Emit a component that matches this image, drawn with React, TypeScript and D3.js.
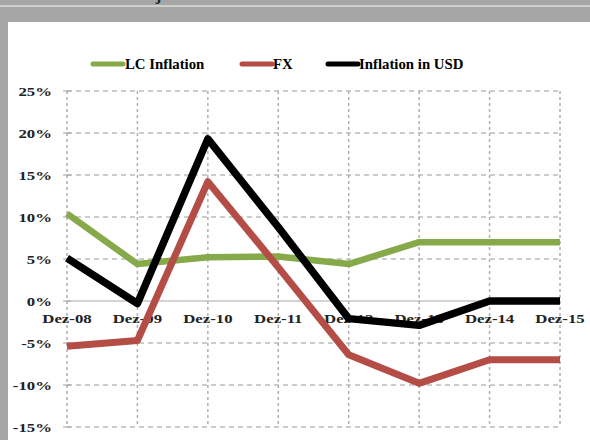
import React from "react";
import * as d3 from "d3";

const categories = ["Dez-08", "Dez-09", "Dez-10", "Dez-11", "Dez-12", "Dez-13", "Dez-14", "Dez-15"];
const lcInflation = [10.4, 4.4, 5.2, 5.3, 4.4, 7.0, 7.0, 7.0];
const fxChange = [-5.4, -4.7, 14.2, 4.0, -6.4, -9.8, -7.0, -7.0];
const usdInflation = [5.1, -0.3, 19.3, 8.8, -2.1, -2.9, 0.0, 0.0];
const yTicks = [25, 20, 15, 10, 5, 0, -5, -10, -15];

const series = [
  { name: "LC Inflation", values: lcInflation, color: "#86A94A", width: 6.5 },
  { name: "FX", values: fxChange, color: "#B34D46", width: 7 },
  { name: "Inflation in USD", values: usdInflation, color: "#000000", width: 7.5 },
];

const W = 590;
const H = 440;
const FONT = "'Liberation Serif', 'Times New Roman', serif";
const STRETCH = 1.4;

export default function App() {
  const x = d3.scalePoint<string>().domain(categories).range([67, 560]);
  const y = d3.scaleLinear().domain([-15, 25]).range([427, 91]);
  const [x0, x1] = x.range();

  const line = d3
    .line<number>()
    .x((_, i) => x(categories[i]) as number)
    .y((v) => y(v));

  const legendItems = [
    { lx: 93, tx: 125 },
    { lx: 242, tx: 273 },
    { lx: 328, tx: 359 },
  ];

  return (
    <svg
      width={W}
      height={H}
      style={{ position: "absolute", left: 0, top: 0, display: "block" }}
    >
      {/* frame */}
      <rect x={0} y={0} width={W} height={H} fill="#a6a6a6" />
      <text
        x={22}
        y={-0.5}
        fontFamily={FONT}
        fontWeight="bold"
        fontSize={17}
        fill="#222"
      >
        Historical and Projected Inflation in USD
      </text>
      <rect x={0} y={5} width={W} height={2} fill="#cfcfcf" />
      <rect x={8} y={22} width={W - 8} height={H - 22} fill="#ffffff" />

      {/* legend */}
      {series.map((s, i) => (
        <g key={s.name}>
          <line
            x1={legendItems[i].lx}
            x2={legendItems[i].lx + 30}
            y1={64}
            y2={64}
            stroke={s.color}
            strokeWidth={5}
            strokeLinecap="round"
          />
          <text
            x={legendItems[i].tx}
            y={69}
            fontFamily={FONT}
            fontWeight="bold"
            fontSize={14.8}
            fill="#000"
          >
            {s.name}
          </text>
        </g>
      ))}

      {/* horizontal gridlines */}
      {yTicks.map((t) =>
        t === 0 ? null : (
          <line
            key={"h" + t}
            x1={x0}
            x2={x1}
            y1={y(t)}
            y2={y(t)}
            stroke="#9a9a9a"
            strokeWidth={1}
            strokeDasharray="5,4"
          />
        )
      )}

      {/* vertical gridlines */}
      {categories.map((c) => (
        <line
          key={"v" + c}
          x1={x(c)}
          x2={x(c)}
          y1={y(25)}
          y2={y(-15)}
          stroke="#b0b0b0"
          strokeWidth={1.5}
          strokeDasharray="3,3"
        />
      ))}

      {/* zero line */}
      <line x1={x0} x2={x1} y1={y(0)} y2={y(0)} stroke="#a8a8a8" strokeWidth={1} />

      {/* y ticks and labels */}
      {yTicks.map((t) => (
        <g key={"yl" + t}>
          <line x1={x0 - 4} x2={x0 + 4} y1={y(t)} y2={y(t)} stroke="#a0a0a0" strokeWidth={1} />
          <g transform={`translate(52,${y(t) + 4.5}) scale(${STRETCH},1)`}>
            <text
              textAnchor="end"
              fontFamily={FONT}
              fontWeight="bold"
              fontSize={12}
              fill="#222"
            >
              {t + "%"}
            </text>
          </g>
        </g>
      ))}

      {/* category labels */}
      {categories.map((c) => (
        <g key={"xl" + c} transform={`translate(${x(c)},${y(0) + 22}) scale(${STRETCH},1)`}>
          <text
            textAnchor="middle"
            fontFamily={FONT}
            fontWeight="bold"
            fontSize={12}
            fill="#222"
          >
            {c}
          </text>
        </g>
      ))}

      {/* series lines */}
      {series.map((s) => (
        <path
          key={"p" + s.name}
          d={line(s.values) as string}
          fill="none"
          stroke={s.color}
          strokeWidth={s.width}
          strokeLinejoin="round"
        />
      ))}
    </svg>
  );
}
